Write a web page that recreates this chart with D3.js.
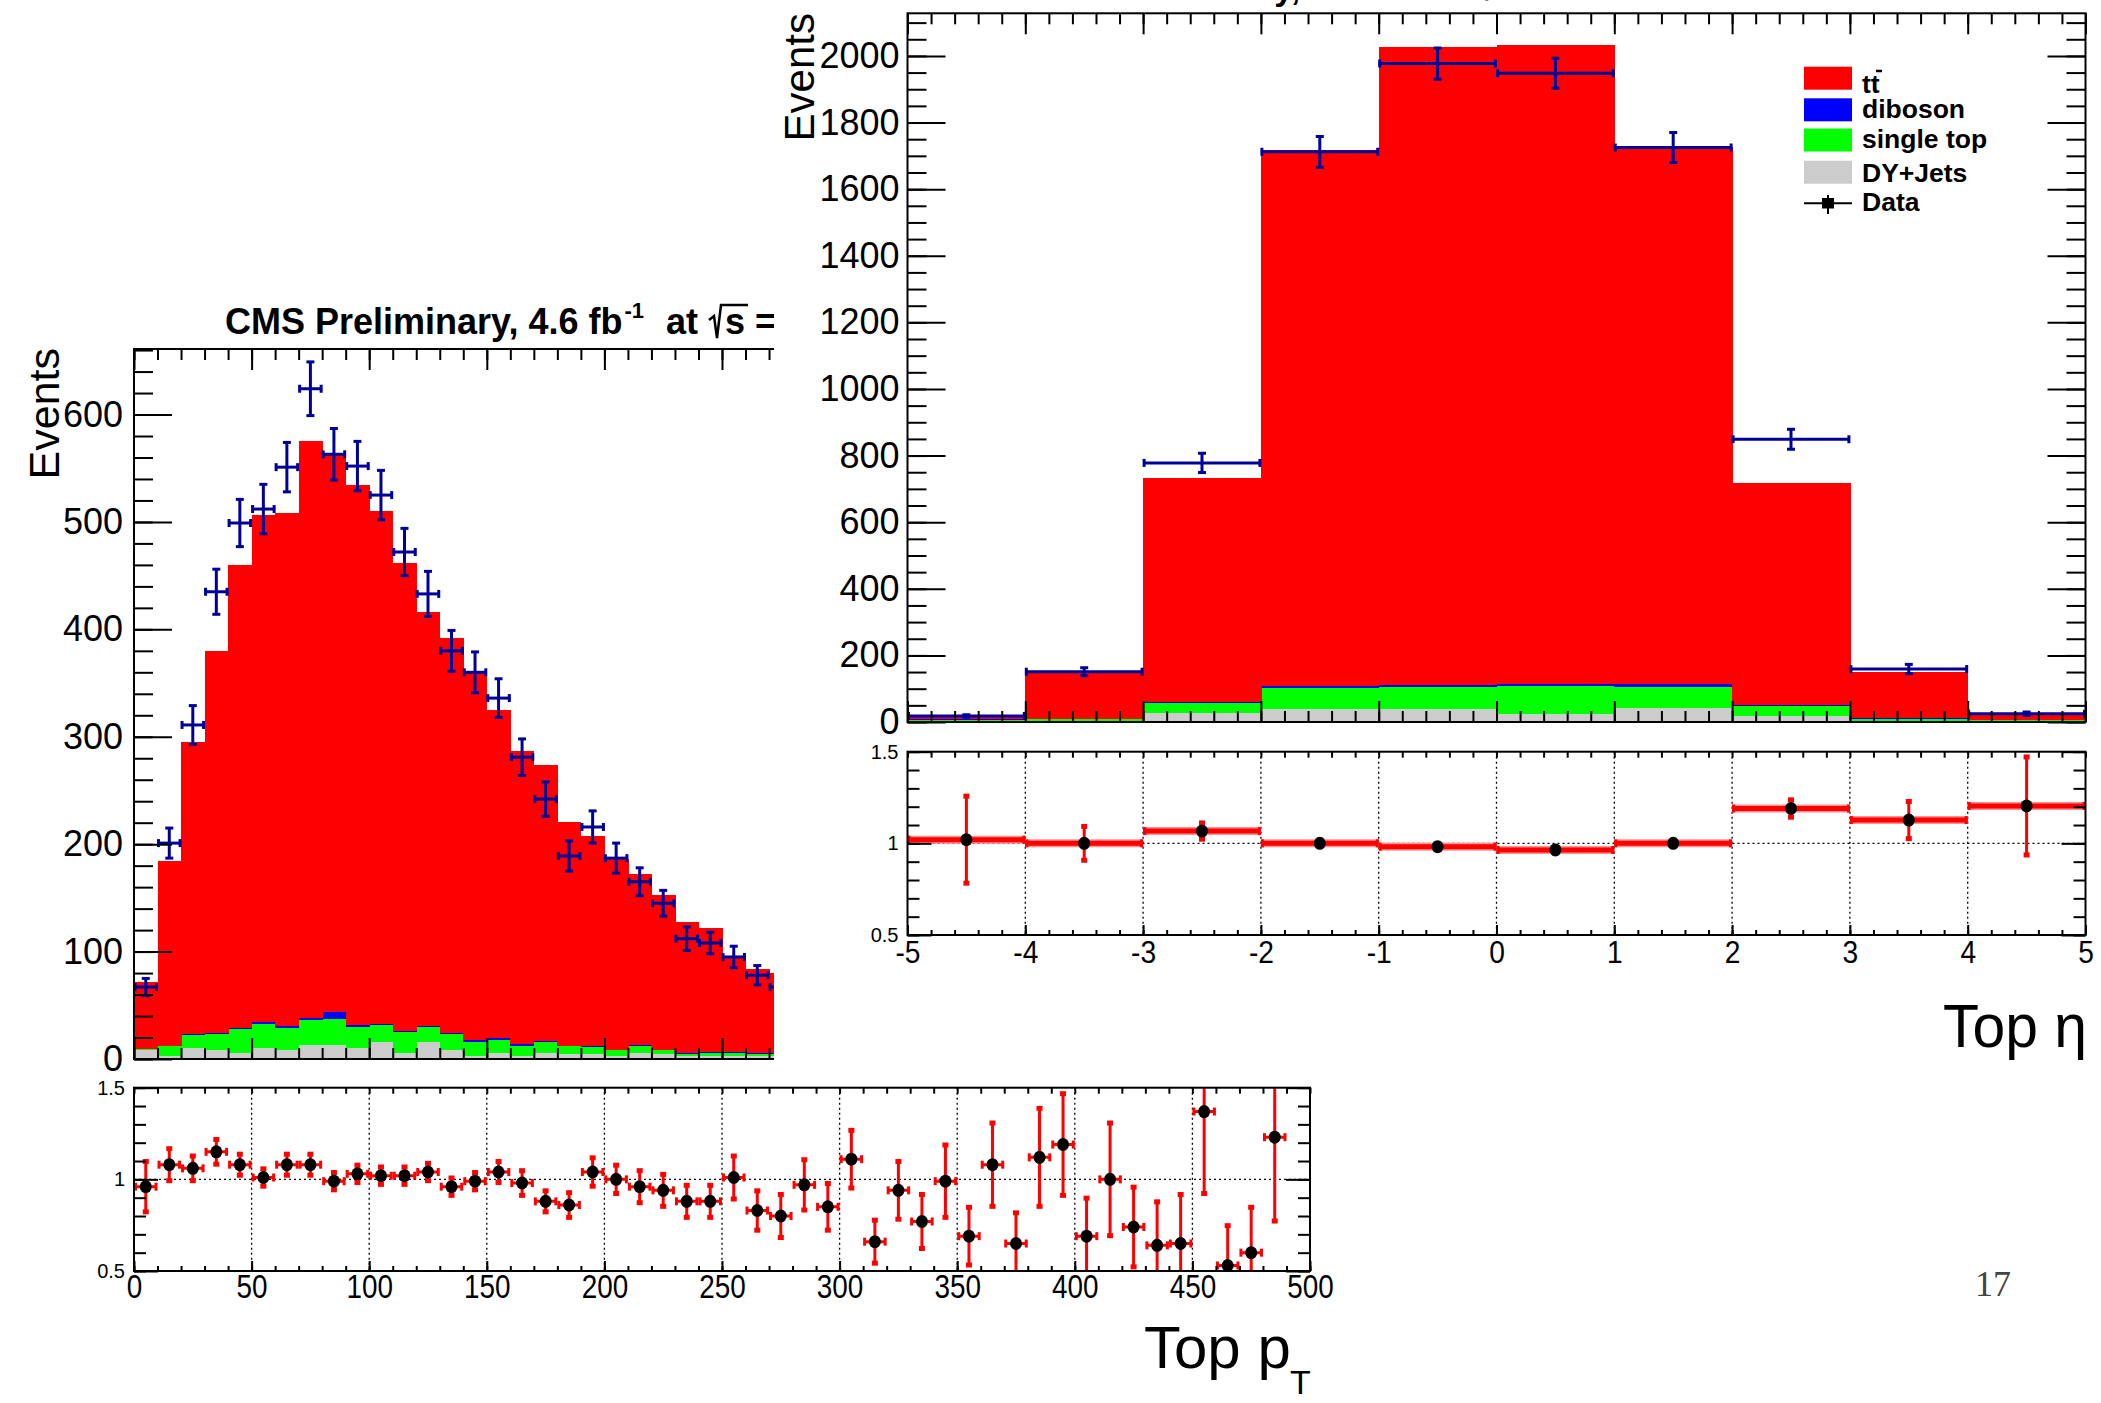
<!DOCTYPE html>
<html><head><meta charset="utf-8">
<script src="https://cdn.jsdelivr.net/npm/d3@7"></script>
<style>body{margin:0;background:#fff}svg{display:block}text{font-family:"Liberation Sans",Arial,Helvetica,sans-serif}</style>
</head><body><script>
// ---------------- DATA ----------------
// Top pT (upper-left), bins of 10 GeV (visible part)
const ptBinLow = [0,10,20,30,40,50,60,70,80,90,100,110,120,130,140,150,160,170,180,190,200,210,220,230,240,250,260,270];
const ptTT   = [62.5,171.5,272,356,431,471.5,477.5,536.5,520,502.5,477,435.5,385,368,343,305.5,273.5,257.5,208.5,196,177.5,159,144.5,122.5,115.5,88.5,78.5,74.5];
const ptDB   = [0.5,0.5,1,1,1,1.5,1.5,2.5,7,1.5,1,1.5,1,1,2,1.5,1.5,0.5,0.5,1,0.5,1,0.5,0.5,0.5,0.5,0.5,0.5];
const ptST   = [1,9,12,15,22,23,21,23,24,20,16,19,14,15,13,12,9,10,7,6,5,6,3,2,3,3,2,2];
const ptDY   = [8,3,10,8,6,10,8,13,13,10,16,6,16,8,3,6,3,6,5,5,3,6,5,3,3,3,3,3];
const ptData = [67,201,311,435,499,512,551,624,563,552,525,472,433,380,360,336,281,242,189,216,187,165,145,112,108,95,78,67];
const ptErr  = [8,14,18,21,22,23,23,25,24,23,23,22,21,19,19,18,17,16,14,15,14,13,12,11,10,10,9,8];

// Top pT ratio (lower-left)
const ratioPtBinLow = [0,10,20,30,40,50,60,70,80,90,100,110,120,130,140,150,160,170,180,190,200,210,220,230,240,250,260,270,280,290,300,310,320,330,340,350,360,370,380,390,400,410,420,430,440,450,460,470,480];
const ratioPt    = [0.96,1.08,1.06,1.15,1.08,1.01,1.08,1.08,0.99,1.03,1.02,1.02,1.04,0.96,0.99,1.04,0.98,0.88,0.86,1.04,1.00,0.96,0.94,0.88,0.88,1.01,0.83,0.80,0.97,0.85,1.11,0.66,0.94,0.77,0.99,0.69,1.08,0.65,1.12,1.19,0.69,1.00,0.74,0.64,0.65,1.37,0.53,0.60,1.23];
const ratioPtErr = [0.14,0.09,0.07,0.07,0.06,0.05,0.06,0.06,0.05,0.05,0.05,0.05,0.05,0.05,0.05,0.06,0.07,0.06,0.07,0.08,0.08,0.09,0.09,0.09,0.09,0.12,0.11,0.12,0.14,0.13,0.16,0.12,0.16,0.15,0.20,0.16,0.23,0.17,0.27,0.28,0.21,0.31,0.22,0.24,0.27,0.45,0.22,0.25,0.46];

// Top eta (upper-right), bins of 1
const etaBinLow = [-5,-4,-3,-2,-1,0,1,2,3,4];
const etaTT   = [13,139,674,1610,1918,1919,1615,668,138,14];
const etaDB   = [1,1.5,2,5,4,6,7,4,1,1];
const etaST   = [3,5.5,29,65,68,84,64,30,6,3];
const etaDY   = [4,3,28,38,38,25,42,17,4,3];
const etaData = [18,151,778,1712,1977,1948,1725,849,159,25];
const etaErr  = [4,12,29,46,47,45,45,30,14,5];
const ratioEta    = [1.02,1.00,1.067,1.00,0.982,0.964,1.00,1.19,1.127,1.204];
const ratioEtaErr = [0.24,0.095,0.047,0.02,0.02,0.02,0.02,0.05,0.104,0.27];

// tick label sets
const ptMajor = [0,50,100,150,200,250,300,350,400,450,500];
const etaMajor = [-5,-4,-3,-2,-1,0,1,2,3,4,5];
const evPtMajor = [0,100,200,300,400,500,600];
const evEtaMajor = [0,200,400,600,800,1000,1200,1400,1600,1800,2000];
const ratioMajor = [0.5,1,1.5];
const legendLabels = ["tt","diboson","single top","DY+Jets","Data"];

// ---------------- SETUP ----------------
const W=2101,H=1403;
const COL={tt:'#ff0000',db:'#0000ff',st:'#00ff00',dy:'#cccccc'};
const NAVY='#000099';
const keys=['dy','st','db','tt'];
const svg=d3.select('body').append('svg').attr('width',W).attr('height',H);
svg.append('rect').attr('width',W).attr('height',H).attr('fill','#fff');
const defs=svg.append('defs');
function clip(id,x0,y0,x1,y1){defs.append('clipPath').attr('id',id).append('rect').attr('x',x0).attr('y',y0).attr('width',x1-x0).attr('height',y1-y0);}

function range(a,b,s){const r=[];for(let v=a;v<=b+1e-9;v+=s)r.push(+v.toFixed(4));return r;}
function ticks(g,gen,scale,vals,len,tr){
  const a=g.append('g').attr('transform',tr).call(gen(scale).tickValues(vals).tickSize(-len).tickSizeOuter(0).tickFormat(''));
  a.select('.domain').remove();
  a.selectAll('line').attr('stroke','#000').attr('stroke-width',2);
}
function frame(g,x0,y0,x1,y1){
  g.append('rect').attr('x',x0).attr('y',y0).attr('width',x1-x0).attr('height',y1-y0).attr('fill','none').attr('stroke','#000').attr('stroke-width',2);
}
function stackHist(g,x,y,binLow,bw,comp,clipId){
  const rows=binLow.map((lo,i)=>({lo,dy:comp.dy[i],st:comp.st[i],db:comp.db[i],tt:comp.tt[i]}));
  const series=d3.stack().keys(keys)(rows);
  g.append('g').attr('clip-path',`url(#${clipId})`).selectAll('g').data(series).join('g').attr('fill',d=>COL[d.key])
    .selectAll('rect').data(d=>d).join('rect')
    .attr('x',d=>x(d.data.lo)).attr('width',d=>x(d.data.lo+bw)-x(d.data.lo)+0.6)
    .attr('y',d=>y(d[1])).attr('height',d=>Math.max(0,y(d[0])-y(d[1])))
    .attr('shape-rendering','crispEdges');
}
function dataCrosses(g,x,y,binLow,bw,vals,errs,clipId,cap){
  const gg=g.append('g').attr('clip-path',`url(#${clipId})`).attr('stroke',NAVY).attr('stroke-width',3);
  binLow.forEach((lo,i)=>{
    const xa=x(lo),xb=x(lo+bw),xc=x(lo+bw/2),yc=y(vals[i]),yt=y(vals[i]+errs[i]),yb=y(vals[i]-errs[i]);
    gg.append('line').attr('x1',xa).attr('x2',xb).attr('y1',yc).attr('y2',yc);
    gg.append('line').attr('x1',xc).attr('x2',xc).attr('y1',yt).attr('y2',yb);
    gg.append('line').attr('x1',xc-cap).attr('x2',xc+cap).attr('y1',yt).attr('y2',yt);
    gg.append('line').attr('x1',xc-cap).attr('x2',xc+cap).attr('y1',yb).attr('y2',yb);
    gg.append('line').attr('x1',xa+1).attr('x2',xa+1).attr('y1',yc-cap).attr('y2',yc+cap);
    gg.append('line').attr('x1',xb-1).attr('x2',xb-1).attr('y1',yc-cap).attr('y2',yc+cap);
  });
}
function yLabels(g,scale,vals,xAxis,size,pad,fmt){
  const a=g.append('g').attr('transform',`translate(${xAxis},0)`).call(d3.axisLeft(scale).tickValues(vals).tickSize(0).tickPadding(pad).tickFormat(fmt||(d=>d)));
  a.select('.domain').remove();
  a.selectAll('text').attr('font-size',size).attr('fill','#000').attr('font-family','"Liberation Sans",Arial,sans-serif');
}
function xLabels(g,scale,vals,yAxis,size,base,sx){
  const a=g.append('g').attr('transform',`translate(0,${yAxis})`).call(d3.axisBottom(scale).tickValues(vals).tickSize(0).tickFormat(d=>d));
  a.select('.domain').remove();
  a.selectAll('text').attr('y',0).attr('dy',0).attr('transform',`translate(0,${base}) scale(${sx},1)`)
    .attr('font-size',size).attr('fill','#000').attr('font-family','"Liberation Sans",Arial,sans-serif');
}
function ratioPoints(g,x,y,binLow,bw,vals,errs,clipId,thick){
  const gg=g.append('g').attr('clip-path',`url(#${clipId})`);
  binLow.forEach((lo,i)=>{
    const xa=x(lo),xb=x(lo+bw),xc=x(lo+bw/2),yc=y(vals[i]),yt=y(vals[i]+errs[i]),yb=y(vals[i]-errs[i]);
    if(thick){
      gg.append('line').attr('x1',xa).attr('x2',xb).attr('y1',yc).attr('y2',yc).attr('stroke','#ff9090').attr('stroke-width',8);
      gg.append('line').attr('x1',xa).attr('x2',xb).attr('y1',yc).attr('y2',yc).attr('stroke','#ff0000').attr('stroke-width',5);
    }else{
      gg.append('line').attr('x1',xa+2).attr('x2',xb-2).attr('y1',yc).attr('y2',yc).attr('stroke','#ff0000').attr('stroke-width',3);
    }
    gg.append('rect').attr('x',xa).attr('y',yc-4).attr('width',3).attr('height',8).attr('fill','#ff0000');
    gg.append('rect').attr('x',xb-3).attr('y',yc-4).attr('width',3).attr('height',8).attr('fill','#ff0000');
    gg.append('line').attr('x1',xc).attr('x2',xc).attr('y1',yt).attr('y2',yb).attr('stroke','#ff0000').attr('stroke-width',3);
    gg.append('rect').attr('x',xc-3).attr('y',yt-2).attr('width',6).attr('height',5).attr('fill','#ff0000');
    gg.append('rect').attr('x',xc-3).attr('y',yb-3).attr('width',6).attr('height',5).attr('fill','#ff0000');
    gg.append('ellipse').attr('cx',xc).attr('cy',yc).attr('rx',6).attr('ry',6.5).attr('fill','#000');
  });
}
function grid(g,x,y,xs,x0,x1,y0,y1){
  const gg=g.append('g').attr('stroke','#000').attr('stroke-width',1.3).attr('stroke-dasharray','2,3');
  xs.forEach(v=>gg.append('line').attr('x1',x(v)).attr('x2',x(v)).attr('y1',y0).attr('y2',y1));
  gg.append('line').attr('x1',x0).attr('x2',x1).attr('y1',y(1)).attr('y2',y(1));
}

// ---------------- UPPER LEFT: Top pT ----------------
const L={x0:134,x1:1310,y0:349,y1:1059};
const xPt=d3.scaleLinear([0,500],[L.x0,L.x1]);
const yPt=d3.scaleLinear([0,661],[L.y1,L.y0]);
clip('cPt',L.x0,L.y0,L.x1,L.y1);
const gL=svg.append('g');
stackHist(gL,xPt,yPt,ptBinLow,10,{tt:ptTT,db:ptDB,st:ptST,dy:ptDY},'cPt');
dataCrosses(gL,xPt,yPt,ptBinLow,10,ptData,ptErr,'cPt',4);
ticks(gL,d3.axisBottom,xPt,range(0,500,10),11,`translate(0,${L.y1})`);
ticks(gL,d3.axisBottom,xPt,ptMajor,21,`translate(0,${L.y1})`);
ticks(gL,d3.axisTop,xPt,range(0,500,10),11,`translate(0,${L.y0})`);
ticks(gL,d3.axisTop,xPt,ptMajor,21,`translate(0,${L.y0})`);
ticks(gL,d3.axisLeft,yPt,range(0,660,20),19,`translate(${L.x0},0)`);
ticks(gL,d3.axisLeft,yPt,evPtMajor,38,`translate(${L.x0},0)`);
frame(gL,L.x0,L.y0,L.x1,L.y1);
yLabels(gL,yPt,evPtMajor,L.x0,36,11);
gL.append('text').attr('transform',`translate(59,348) rotate(-90)`).attr('text-anchor','end').attr('font-size',43).text('Events');
// title (flowing pieces)
const tL=gL.append('g').attr('font-weight','bold').attr('font-family','"Liberation Sans",Arial,sans-serif');
const t1=tL.append('text').attr('x',225).attr('y',334).attr('font-size',36).text('CMS Preliminary, 4.6 fb');
const e1=225+t1.node().getComputedTextLength();
tL.append('text').attr('x',e1+2).attr('y',318).attr('font-size',22).text('-1');
tL.append('text').attr('x',666).attr('y',334).attr('font-size',36).text('at');
tL.append('path').attr('d','M709,320 L714,316 L717,338 L721,305 L748,305').attr('fill','none').attr('stroke','#000').attr('stroke-width',2.5);
tL.append('text').attr('x',725).attr('y',334).attr('font-size',36).text('s');
tL.append('text').attr('x',755).attr('y',334).attr('font-size',36).text('=');

// ---------------- LOWER LEFT: pT ratio ----------------
const RL={x0:134,x1:1310,y0:1087.7,y1:1271};
const xRp=d3.scaleLinear([0,500],[RL.x0,RL.x1]);
const yRp=d3.scaleLinear([0.5,1.5],[RL.y1,RL.y0]);
clip('cRp',RL.x0,RL.y0,RL.x1,RL.y1);
const gRL=svg.append('g');
grid(gRL,xRp,yRp,[50,100,150,200,250,300,350,400,450],RL.x0,RL.x1,RL.y0,RL.y1);
ratioPoints(gRL,xRp,yRp,ratioPtBinLow,10,ratioPt,ratioPtErr,'cRp',false);
ticks(gRL,d3.axisBottom,xRp,range(0,500,10),5,`translate(0,${RL.y1})`);
ticks(gRL,d3.axisBottom,xRp,ptMajor,10,`translate(0,${RL.y1})`);
ticks(gRL,d3.axisTop,xRp,range(0,500,10),6,`translate(0,${RL.y0})`);
ticks(gRL,d3.axisLeft,yRp,range(0.5,1.5,0.1),12,`translate(${RL.x0},0)`);
ticks(gRL,d3.axisLeft,yRp,ratioMajor,24,`translate(${RL.x0},0)`);
ticks(gRL,d3.axisRight,yRp,range(0.5,1.5,0.1),12,`translate(${RL.x1},0)`);
ticks(gRL,d3.axisRight,yRp,ratioMajor,24,`translate(${RL.x1},0)`);
frame(gRL,RL.x0,RL.y0,RL.x1,RL.y1);
yLabels(gRL,yRp,ratioMajor,RL.x0,20,9);
xLabels(gRL,xRp,ptMajor,RL.y1,34,27,0.82);
gRL.append('text').attr('x',1144).attr('y',1368).attr('font-size',60).text('Top p');
gRL.append('text').attr('x',1290).attr('y',1394).attr('font-size',34).text('T');

// ---------------- RIGHT PANEL (covers left plot) ----------------
svg.append('rect').attr('x',774).attr('y',0).attr('width',W-774).attr('height',1075).attr('fill','#fff');
const R={x0:907.5,x1:2085.5,y0:13.3,y1:722};
const xEta=d3.scaleLinear([-5,5],[R.x0,R.x1]);
const yEta=d3.scaleLinear([0,2128],[R.y1,R.y0]);
clip('cEta',R.x0,R.y0,R.x1,R.y1);
const gR=svg.append('g');
// title cut off by the top edge (only descenders visible)
gR.append('text').attr('x',1023).attr('y',0).attr('font-size',34).attr('font-weight','bold').text('CMS Preliminary, 4.6 fb-1 at \u221As = 7 TeV');
stackHist(gR,xEta,yEta,etaBinLow,1,{tt:etaTT,db:etaDB,st:etaST,dy:etaDY},'cEta');
dataCrosses(gR,xEta,yEta,etaBinLow,1,etaData,etaErr,'cEta',4);
ticks(gR,d3.axisBottom,xEta,range(-5,5,0.2),11,`translate(0,${R.y1})`);
ticks(gR,d3.axisBottom,xEta,etaMajor,21,`translate(0,${R.y1})`);
ticks(gR,d3.axisTop,xEta,range(-5,5,0.2),11,`translate(0,${R.y0})`);
ticks(gR,d3.axisTop,xEta,etaMajor,21,`translate(0,${R.y0})`);
ticks(gR,d3.axisLeft,yEta,range(0,2100,50),19,`translate(${R.x0},0)`);
ticks(gR,d3.axisLeft,yEta,evEtaMajor,38,`translate(${R.x0},0)`);
ticks(gR,d3.axisRight,yEta,range(0,2100,50),19,`translate(${R.x1},0)`);
ticks(gR,d3.axisRight,yEta,evEtaMajor,38,`translate(${R.x1},0)`);
frame(gR,R.x0,R.y0,R.x1,R.y1);
yLabels(gR,yEta,evEtaMajor,R.x0,36,8);
gR.append('text').attr('transform',`translate(814,13) rotate(-90)`).attr('text-anchor','end').attr('font-size',42).text('Events');

// legend
const lg=gR.append('g').attr('font-weight','bold').attr('font-size',26.5);
const legRows=[{k:'tt',y:66.7},{k:'db',y:98.3},{k:'st',y:128.5},{k:'dy',y:160.7}];
legRows.forEach((r,i)=>{
  lg.append('rect').attr('x',1804).attr('y',r.y).attr('width',48).attr('height',23).attr('fill',COL[r.k]);
  lg.append('text').attr('x',1862).attr('y',r.y+[26.6,19.4,19.8,21][i]).text(legendLabels[i]);
});
lg.append('line').attr('x1',1876).attr('x2',1882).attr('y1',71).attr('y2',71).attr('stroke','#000').attr('stroke-width',2.5);
lg.append('line').attr('x1',1804).attr('x2',1852).attr('y1',203.3).attr('y2',203.3).attr('stroke','#000').attr('stroke-width',2);
lg.append('line').attr('x1',1828).attr('x2',1828).attr('y1',195).attr('y2',214).attr('stroke','#000').attr('stroke-width',2);
lg.append('rect').attr('x',1822).attr('y',198).attr('width',12).attr('height',10.5).attr('fill','#000');
lg.append('text').attr('x',1862).attr('y',210.7).text(legendLabels[4]);

// ---------------- RIGHT RATIO ----------------
const RR={x0:907.5,x1:2085.5,y0:751.7,y1:935};
const yRe=d3.scaleLinear([0.5,1.5],[RR.y1,RR.y0]);
clip('cRe',RR.x0,RR.y0,RR.x1,RR.y1);
const gRR=svg.append('g');
grid(gRR,xEta,yRe,[-4,-3,-2,-1,0,1,2,3,4],RR.x0,RR.x1,RR.y0,RR.y1);
ratioPoints(gRR,xEta,yRe,etaBinLow,1,ratioEta,ratioEtaErr,'cRe',true);
ticks(gRR,d3.axisBottom,xEta,range(-5,5,0.2),5,`translate(0,${RR.y1})`);
ticks(gRR,d3.axisBottom,xEta,etaMajor,10,`translate(0,${RR.y1})`);
ticks(gRR,d3.axisTop,xEta,range(-5,5,0.2),6,`translate(0,${RR.y0})`);
ticks(gRR,d3.axisLeft,yRe,range(0.5,1.5,0.1),12,`translate(${RR.x0},0)`);
ticks(gRR,d3.axisLeft,yRe,ratioMajor,24,`translate(${RR.x0},0)`);
ticks(gRR,d3.axisRight,yRe,range(0.5,1.5,0.1),12,`translate(${RR.x1},0)`);
ticks(gRR,d3.axisRight,yRe,ratioMajor,24,`translate(${RR.x1},0)`);
frame(gRR,RR.x0,RR.y0,RR.x1,RR.y1);
yLabels(gRR,yRe,ratioMajor,RR.x0,20,9);
xLabels(gRR,xEta,etaMajor,RR.y1,32,28,0.88);
gRR.append('text').attr('x',2087).attr('y',1047).attr('text-anchor','end').attr('font-size',62)
  .attr('textLength',144).attr('lengthAdjust','spacingAndGlyphs').text('Top \u03B7');

// page number
svg.append('text').attr('x',1975).attr('y',1296).attr('font-size',36).attr('fill','#444')
  .style('font-family','"Liberation Serif","Times New Roman",serif').text('17');
</script></body></html>
